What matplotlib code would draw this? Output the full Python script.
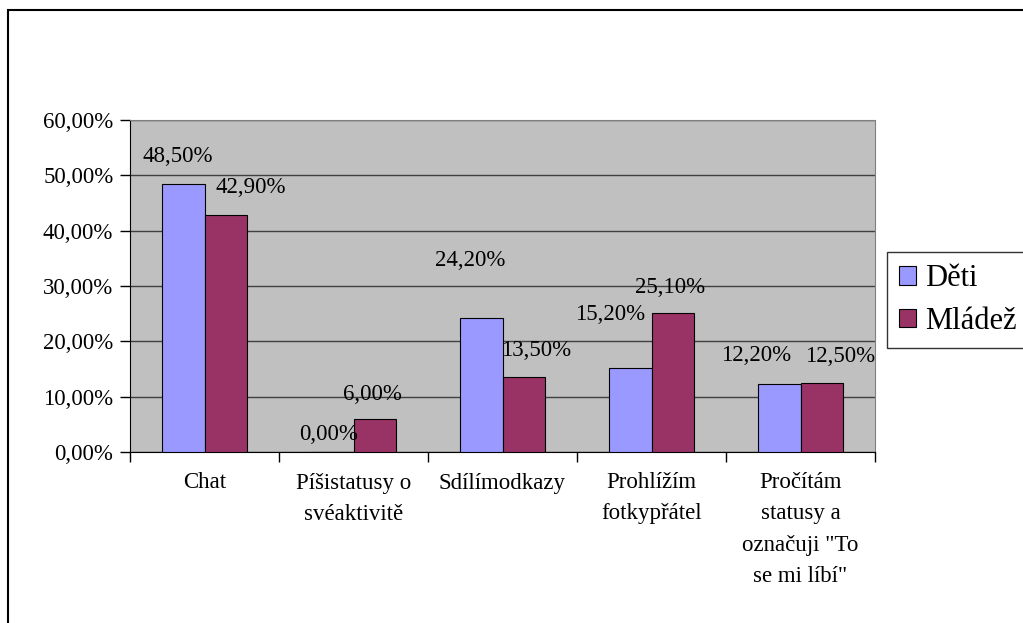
import matplotlib
matplotlib.use("Agg")
import matplotlib.pyplot as plt
from matplotlib.patches import Rectangle
import numpy as np

categories = [["Chat"],
              ["Píšistatusy o", "svéaktivitě"],
              ["Sdílímodkazy"],
              ["Prohlížím", "fotkypřátel"],
              ["Pročítám", "statusy a", "označuji \"To", "se mi líbí\""]]
deti = [48.5, 0.0, 24.2, 15.2, 12.2]
mladez = [42.9, 6.0, 13.5, 25.1, 12.5]
yticks = [0, 10, 20, 30, 40, 50, 60]

# label offsets in pixels (dx, dy) - excel put them a bit all over the place
deti_off = [(-5, 27), (-4, 18), (-11, 58), (-20, 53), (-23, 29)]
mladez_off = [(25, 27), (-2, 24), (12, 27), (-3, 26), (18, 26)]

plt.rcParams['font.family'] = ['Liberation Serif', 'DejaVu Serif']
FS = 16.5

fig = plt.figure(figsize=(10.23, 6.23), dpi=100)
W, H = 1023, 623
ax = fig.add_axes([130 / W, 1 - 452 / H, 745 / W, 332 / H])
ax.set_facecolor('#C0C0C0')

x = np.arange(len(categories))
w = 1 / 3.5
b1 = ax.bar(x - w / 2, deti, w, color='#9999FF', edgecolor='black', linewidth=0.8, label='Děti', zorder=3)
b2 = ax.bar(x + w / 2, mladez, w, color='#993366', edgecolor='black', linewidth=0.8, label='Mládež', zorder=3)

def fmt(v):
    return ('%.2f%%' % v).replace('.', ',')

for xi, v, off in zip(x - w / 2, deti, deti_off):
    ax.annotate(fmt(v), (xi, v), xytext=off, textcoords='offset pixels',
                ha='center', va='center', fontsize=FS, zorder=4)
for xi, v, off in zip(x + w / 2, mladez, mladez_off):
    ax.annotate(fmt(v), (xi, v), xytext=off, textcoords='offset pixels',
                ha='center', va='center', fontsize=FS, zorder=4)

ax.set_xlim(-0.5, len(categories) - 0.5)
ax.set_ylim(0, 60)
ax.set_yticks(yticks)
ax.set_yticklabels([fmt(t) for t in yticks], fontsize=FS)
ax.yaxis.grid(True, color='#404040', linewidth=1.0, zorder=1)
ax.set_xticks(np.arange(len(categories) + 1) - 0.5)
ax.set_xticklabels([])
ax.tick_params(axis='both', direction='out', length=7, width=1, color='black', pad=5)

for i, lines in enumerate(categories):
    for k, line in enumerate(lines):
        ax.annotate(line, (i, 0), xytext=(0, -31 - 31 * k), textcoords='offset pixels',
                    ha='center', va='center', fontsize=FS, annotation_clip=False)

for s in ['top', 'right']:
    ax.spines[s].set_color('#808080')
for s in ['left', 'bottom']:
    ax.spines[s].set_color('black')

leg = fig.legend(handles=[b1, b2], loc='upper left', bbox_to_anchor=(887 / W, 1 - 252 / H),
                 fontsize=22, frameon=True, fancybox=False, edgecolor='black',
                 handlelength=0.55, handleheight=0.55, handletextpad=0.3,
                 borderpad=0.4, labelspacing=0.45, borderaxespad=0)
leg.get_frame().set_linewidth(1.0)

fig.patches.append(Rectangle((8 / W, -0.1), 1.2, 1.1 - 10 / H, transform=fig.transFigure,
                             fill=False, edgecolor='black', linewidth=1.5))

fig.savefig('out.png', dpi=100)
